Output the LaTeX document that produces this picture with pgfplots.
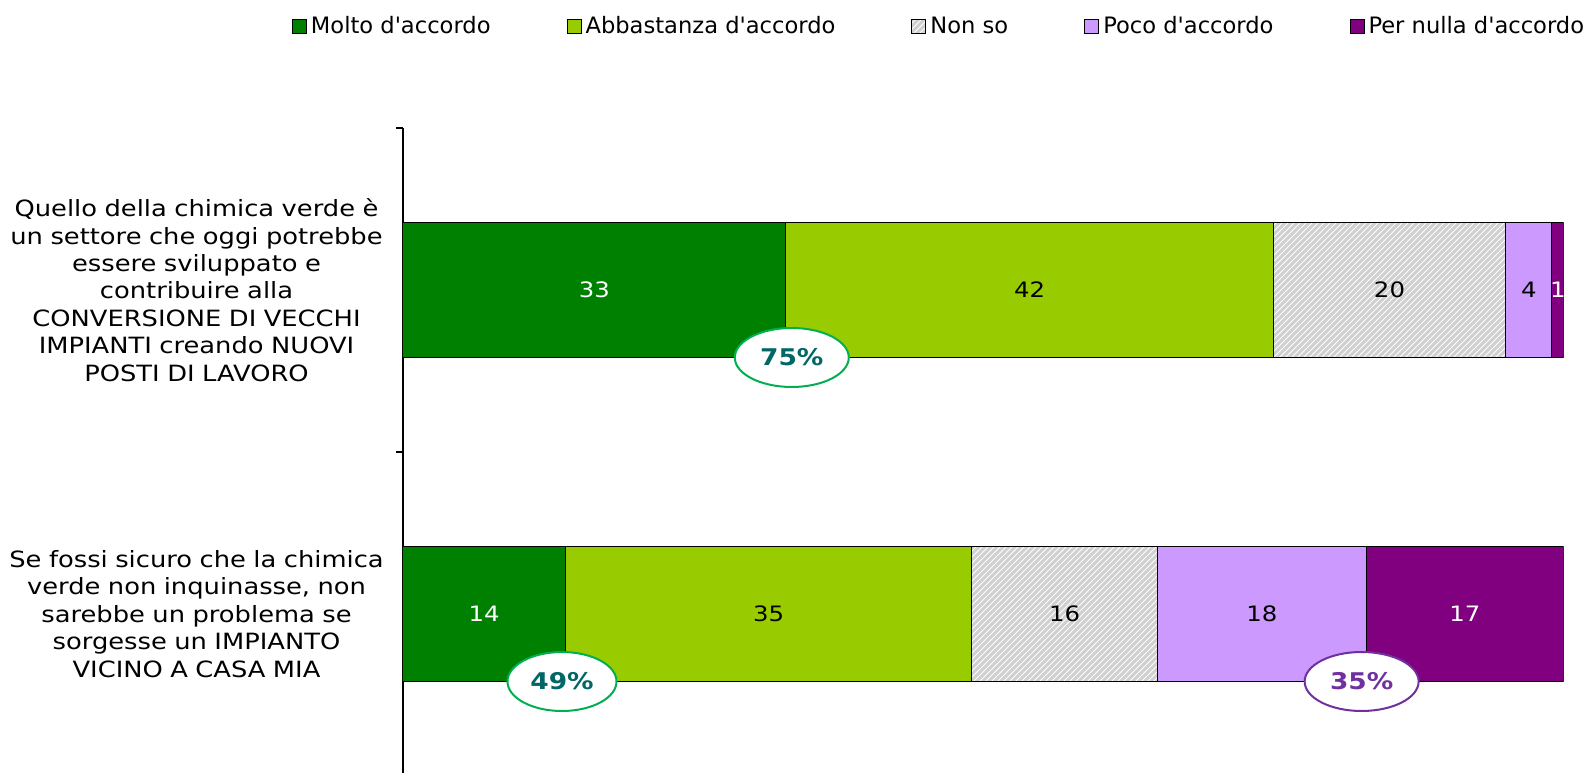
\documentclass[border=0pt]{standalone}
\usepackage{fontspec}
\setmainfont{DejaVu Sans}
\newfontfamily\widefont{DejaVu Sans}[FakeStretch=1.15]
\usepackage{pgfplots}
\pgfplotsset{compat=1.18}
\usetikzlibrary{patterns,shapes.geometric}

\definecolor{molto}{HTML}{008000}
\definecolor{abbastanza}{HTML}{99CC00}
\definecolor{nonso}{HTML}{D0D0D0}
\definecolor{poco}{HTML}{CC99FF}
\definecolor{nulla}{HTML}{800080}
\definecolor{ringgreen}{HTML}{00B050}
\definecolor{teal}{HTML}{006666}
\definecolor{viola}{HTML}{7030A0}

\begin{document}
\begin{tikzpicture}
\begin{axis}[
  name=ax,
  scale only axis,
  width=580.3pt, height=322.5pt,
  xbar stacked,
  bar width=0.4167,
  xmin=0, xmax=100,
  ymin=-0.5, ymax=1.4907,
  y dir=reverse,
  axis x line=none,
  axis y line*=left,
  axis line style={black, line width=0.6pt},
  ytick={0,1},
  yticklabels={
    {Quello della chimica verde è\\un settore che oggi potrebbe\\essere sviluppato e\\contribuire alla\\CONVERSIONE DI VECCHI\\IMPIANTI creando NUOVI\\POSTI DI LAVORO},
    {Se fossi sicuro che la chimica\\verde non inquinasse, non\\sarebbe un problema se\\sorgesse un IMPIANTO\\VICINO A CASA MIA}},
  major tick length=0pt,
  minor ytick={-0.5,0.5},
  minor tick length=3.5pt,
  tick align=outside,
  tick style={black, line width=0.6pt},
  yticklabel style={align=center, text width=196pt,
    font=\widefont\fontsize{11.2}{13.7}\selectfont, xshift=-1.7pt},
  /pgf/number format/assume math mode=true,
  legend columns=5,
  legend style={draw=none, fill=none,
    at={(axis description cs:-0.1012,1.1572)}, anchor=west,
    font=\fontsize{11.3}{12}\selectfont,
    /tikz/every even column/.append style={column sep=36pt}},
  legend cell align=left,
  legend image code/.code={\draw[#1, draw=black, line width=0.5pt] (0pt,-3.5pt) rectangle (7pt,3.5pt);},
  every axis plot/.append style={draw=black, line width=0.5pt},
  nodes near coords,
  nodes near coords align=center,
  every node near coord/.append style={font=\widefont\fontsize{10.6}{12}\selectfont},
]
\addplot[fill=molto, every node near coord/.append style={text=white}]
  coordinates {(33,0) (14,1)};
\addplot[fill=abbastanza, every node near coord/.append style={text=black}]
  coordinates {(42,0) (35,1)};
\addplot[fill=nonso, postaction={pattern=north east lines, pattern color=white},
  every node near coord/.append style={text=black}]
  coordinates {(20,0) (16,1)};
\addplot[fill=poco, every node near coord/.append style={text=black}]
  coordinates {(4,0) (18,1)};
\addplot[fill=nulla, every node near coord/.append style={text=white}]
  coordinates {(1,0) (17,1)};
\legend{Molto d\textquotesingle accordo, Abbastanza d\textquotesingle accordo, Non so, Poco d\textquotesingle accordo, Per nulla d\textquotesingle accordo}

\coordinate (e75) at (axis cs:33.5,0.2083);
\coordinate (e49) at (axis cs:13.7,1.2083);
\coordinate (e35) at (axis cs:82.6,1.2083);
\end{axis}
\node[ellipse, draw=ringgreen, line width=1pt, fill=white, minimum width=57pt,
  minimum height=29.5pt, inner sep=0pt, text=teal,
  font=\widefont\bfseries\fontsize{11.5}{12}\selectfont]
  at (e75) {75\%};
\node[ellipse, draw=ringgreen, line width=1pt, fill=white, minimum width=54.5pt,
  minimum height=29.5pt, inner sep=0pt, text=teal,
  font=\widefont\bfseries\fontsize{11.5}{12}\selectfont]
  at (e49) {49\%};
\node[ellipse, draw=viola, line width=1pt, fill=white, minimum width=57pt,
  minimum height=29.5pt, inner sep=0pt, text=viola,
  font=\widefont\bfseries\fontsize{11.5}{12}\selectfont]
  at (e35) {35\%};
\pgfresetboundingbox
\path[use as bounding box] ([xshift=-201.5pt]ax.south west) rectangle ([xshift=594.5pt,yshift=386.5pt]ax.south west);
\end{tikzpicture}
\end{document}
